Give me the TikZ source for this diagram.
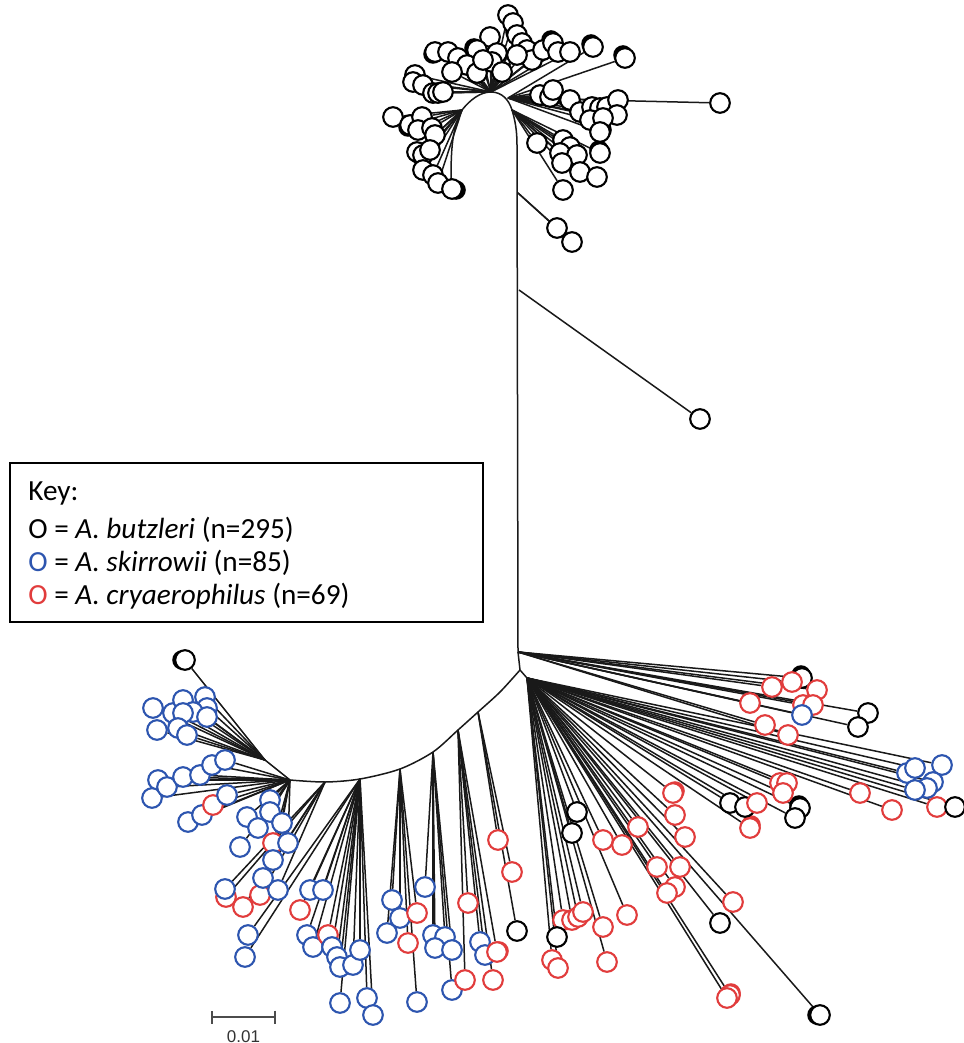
\documentclass[tikz,border=0pt]{standalone}
\usepackage{fontspec}
\setmainfont{Carlito}
\newfontfamily\scalefont{Liberation Sans}
\usepackage{xcolor}
\usetikzlibrary{arrows.meta}
\definecolor{bl}{RGB}{45,85,175}
\definecolor{rd}{RGB}{225,60,60}
\definecolor{br}{RGB}{25,25,25}
\pgfdeclarelayer{bg}
\pgfsetlayers{bg,main}
\tikzset{
  leaf/.style={circle,draw=#1,fill=white,line width=1.05pt,minimum size=9.8pt,inner sep=0pt},
  blot/.style={circle,fill=#1,minimum size=9.8pt,inner sep=0pt},
  twig/.style={draw=br,line width=0.75pt},
  keytxt/.style={anchor=base west,inner sep=0pt,font=\fontsize{14.6}{16}\selectfont},
}

\begin{document}
\begin{tikzpicture}[x=0.5pt,y=-0.5pt]
\useasboundingbox (0,0) rectangle (963,1043);

%backbone
\coordinate (tl3) at (451,180);
\coordinate (tl1) at (462,110);
\coordinate (t0) at (491,92);
\coordinate (tr0) at (508,98);
\coordinate (tr1) at (512,110);
\coordinate (tr2) at (517,145);
\coordinate (tb1) at (518,193);
\coordinate (tb2) at (519,290);
\coordinate (b0) at (518,652);
\coordinate (b1) at (520,670);
\coordinate (rf) at (527,678);
\coordinate (a1) at (500,692);
\coordinate (a2) at (478,712);
\coordinate (a3) at (458,730);
\coordinate (a4) at (433,752);
\coordinate (a5) at (400,769);
\coordinate (a6) at (360,779);
\coordinate (a7) at (325,782);
\coordinate (lh) at (290,780);
\coordinate (lu) at (265,760);
\draw[twig] (tl3) .. controls (451,150) and (452,128) .. (tl1)
  .. controls (470,100) and (480,92) .. (t0)
  .. controls (502,92) and (509,100) .. (tr1)
  .. controls (515,120) and (517,130) .. (tr2) -- (b0) -- (b1) -- (rf);
\draw[twig] plot[smooth] coordinates {(b1) (a1) (a2) (a3) (a4) (a5) (a6) (a7) (lh)};
\draw[twig] (lh) -- (lu);

%shadowed circles
\foreach \x/\y/\dx/\dy/\c [count=\i] in {477/50/-3/-2/black, 517/35/-2/-3/black, 553/43/-2/-3/black,
  593/47/-2/-3/black, 625/58/-2/-3/black, 600/132/2/-2/black, 600/153/-1/-3/black, 560/153/2/-2/black,
  452/189/4/1/black, 410/125/-2/2/black, 423/155/-2/1/black, 435/52/-2/2/black,
  185/660/-3/0/black, 820/1015/-3/0/black, 802/678/-1/-3/black, 800/808/-1/-3/black,
  673/793/2/-2/rd, 750/828/1/-3/rd, 730/995/1/-2/rd, 497/952/2/-1/rd}
  \node[blot=\c] (s\i) at ({\x+\dx},{\y+\dy}) {};

%top cluster
\foreach \h/\x/\y [count=\i] in {t0/508/15, t0/513/23, t0/490/37, t0/477/50, t0/497/53, t0/435/52,
  t0/448/52, t0/458/58, t0/467/65, t0/477/73, t0/452/72, t0/492/62, t0/502/72, t0/483/60, t0/517/35,
  t0/522/43, t0/527/50, t0/532/60, t0/543/50, t0/553/43, t0/558/52, t0/570/52, t0/517/55,
  t0/415/75, t0/413/82, t0/423/85, t0/433/93, t0/438/93, t0/443/92,
  tr0/593/47, tr0/625/58, tr0/540/95, tr0/550/97, tr0/553/90, tr0/570/100, tr0/580/112, tr0/592/107,
  tr0/600/108, tr0/607/107, tr0/618/100, tr0/617/115, tr0/590/120, tr0/603/118, tr0/600/132, tr0/720/103,
  tr1/600/153, tr1/537/143, tr1/563/140, tr1/570/147, tr1/560/153, tr1/577/155, tr1/562/163,
  tr1/580/172, tr1/597/177, tr1/563/190,
  tl1/393/117, tl1/410/125, tl1/422/117, tl1/418/130, tl1/432/128, tl1/435/135, tl1/417/152,
  tl1/423/155, tl1/430/150, tl1/423/170, tl1/433/175, tl1/438/183, tl3/452/189,
  tb1/557/228, tb1/572/242, tb2/700/419}
{
  \node[leaf=black] (t\i) at (\x,\y) {};
  \begin{pgfonlayer}{bg}\draw[twig] (\h) -- (t\i);\end{pgfonlayer}
}

%lower left fan
\foreach \h/\x/\y/\c [count=\i] in {lu/185/660/black, lu/153/708/bl, lu/157/730/bl, lu/173/713/bl,
  lu/183/700/bl, lu/205/697/bl, lu/207/708/bl, lu/193/712/bl, lu/183/713/bl, lu/207/717/bl,
  lu/178/728/bl, lu/187/735/bl,
  lh/158/780/bl, lh/152/798/bl, lh/167/787/bl, lh/183/777/bl, lh/200/775/bl, lh/212/765/bl,
  lh/225/760/bl, lh/188/822/bl, lh/202/815/bl, lh/213/805/rd, lh/227/795/bl, lh/247/817/bl,
  lh/258/828/bl, lh/270/800/bl, lh/270/812/bl, lh/282/823/bl, lh/273/843/rd, lh/288/843/bl,
  lh/240/847/bl, lh/273/860/bl,
  a7/226/897/rd, a7/225/889/bl, a7/243/907/rd, a7/260/895/rd, a7/278/890/bl, a7/263/878/bl,
  a6/248/935/bl, a6/245/957/bl, a6/300/910/rd, a6/310/890/bl, a6/323/890/bl,
  a6/307/935/bl, a6/313/947/bl, a6/328/935/rd, a6/332/947/bl, a6/337/957/bl, a6/340/967/bl,
  a6/353/965/bl, a6/360/950/bl, a6/340/1003/bl, a6/367/998/bl, a6/373/1015/bl,
  a5/392/900/bl, a5/400/918/bl, a5/387/933/bl, a5/417/913/rd, a5/408/943/rd, a5/417/1002/bl,
  a4/425/887/bl, a4/433/935/bl, a4/445/937/bl, a4/435/948/bl, a4/452/950/bl, a4/452/990/bl,
  a3/468/903/rd, a3/465/980/rd, a3/480/942/bl, a3/485/955/bl, a3/497/952/rd, a3/493/980/rd,
  a2/498/840/rd, a2/512/872/rd, a2/517/931/black}
{
  \node[leaf=\c] (l\i) at (\x,\y) {};
  \begin{pgfonlayer}{bg}\draw[twig] (\h) -- (l\i);\end{pgfonlayer}
}

%lower right fan
\foreach \h/\x/\y/\c [count=\i] in {rf/577/812/black, rf/572/833/black, rf/603/840/rd, rf/622/845/rd,
  rf/638/827/rd, rf/673/793/rd, rf/675/815/rd, rf/685/837/rd, rf/657/867/rd, rf/680/867/rd,
  rf/675/887/rd, rf/667/893/rd, rf/733/902/rd, rf/720/923/black, rf/627/915/rd, rf/603/927/rd,
  rf/563/920/rd, rf/572/920/rd, rf/578/917/rd, rf/583/912/rd, rf/557/937/black, rf/552/960/rd,
  rf/558/968/rd, rf/607/962/rd, rf/730/995/rd, rf/727/998/rd, rf/820/1015/black,
  rf/730/803/black, rf/745/807/black, rf/757/803/rd, rf/750/828/rd, rf/780/783/rd, rf/787/783/rd,
  rf/783/793/rd, rf/800/808/black, rf/795/818/black,
  rf/860/793/rd, rf/892/810/rd, rf/937/807/rd, rf/955/807/black, rf/907/773/bl, rf/915/768/bl,
  rf/942/765/bl, rf/933/782/bl, rf/927/788/bl, rf/915/790/bl,
  b0/802/678/black, b0/792/682/rd, b0/772/687/rd, b0/817/690/rd, b0/750/703/rd, b0/803/705/rd,
  b0/813/705/rd, b0/802/715/bl, b0/765/725/rd, b0/788/735/rd, b0/868/713/black, b0/858/727/black}
{
  \node[leaf=\c] (r\i) at (\x,\y) {};
  \begin{pgfonlayer}{bg}\draw[twig] (\h) -- (r\i);\end{pgfonlayer}
}

%key
\node[draw=black,line width=1pt,minimum width=236.5pt,minimum height=79.5pt,inner sep=0pt] (key) at (246.5,542.5) {};
\node[keytxt] (kt) at (28,500) {Key:};
\node[keytxt] (k1) at (28,538) {O = \textit{A. butzleri} (n=295)};
\node[keytxt] (k2) at (28,571) {\textcolor{bl}{O} = \textit{A. skirrowii} (n=85)};
\node[keytxt] (k3) at (28,604) {\textcolor{rd}{O} = \textit{A. cryaerophilus} (n=69)};

%scale bar
\coordinate (sb0) at (211,1017);
\coordinate (sb1) at (276,1017);
\draw[black!70,line width=0.8pt,{Bar[width=6.5pt]}-{Bar[width=6.5pt]}] (sb0) -- (sb1);
\node[anchor=base,inner sep=0pt,font=\scalefont\fontsize{8.5}{9}\selectfont,text=black!80] (sbl) at (243.5,1042) {0.01};
\end{tikzpicture}
\end{document}
